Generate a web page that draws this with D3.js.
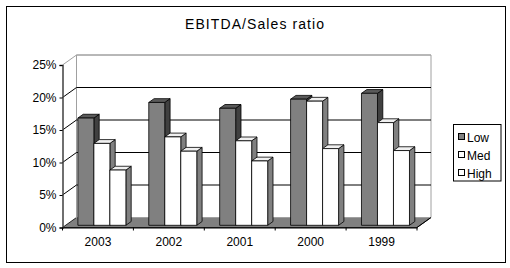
<!DOCTYPE html>
<html>
<head>
<meta charset="utf-8">
<script src="https://cdn.jsdelivr.net/npm/d3@7"></script>
<style>
  body { margin: 0; background: #fff; }
  svg { display: block; font-family: "Liberation Sans", Arial, sans-serif; }
</style>
</head>
<body>
<svg width="510" height="268"></svg>
<script>
// data
const categories = ["2003", "2002", "2001", "2000", "1999"];
const seriesNames = ["Low", "Med", "High"];
const lowValues = [0.165, 0.189, 0.180, 0.194, 0.203];
const medValues = [0.126, 0.136, 0.130, 0.191, 0.158];
const highValues = [0.085, 0.114, 0.099, 0.118, 0.115];
const yTicks = [0, 0.05, 0.10, 0.15, 0.20, 0.25];

const seriesValues = { Low: lowValues, Med: medValues, High: highValues };
const colors = {
    Low: { front: "#808080", side: "#404040", top: "#5a5a5a" },
    Med: { front: "#ffffff", side: "#808080", top: "#f0f0f0" },
    High: { front: "#ffffff", side: "#808080", top: "#f0f0f0" }
};

const svg = d3.select("svg");

// outer frame
svg.append("rect")
    .attr("x", 6.5).attr("y", 6.5)
    .attr("width", 499).attr("height", 256)
    .attr("fill", "#fff").attr("stroke", "#000");

svg.append("text")
    .attr("x", 254.5).attr("y", 28.5)
    .attr("text-anchor", "middle")
    .attr("font-size", 14)
    .attr("textLength", 139)
    .attr("lengthAdjust", "spacing")
    .text("EBITDA/Sales ratio");

// front plane scales + depth vector
const area = { left: 62.5, right: 417, bottom: 227.5, top: 65 };
const depth = { dx: 14, dy: -10 };

const scaleY = d3.scaleLinear().domain([0, 0.25]).range([area.bottom, area.top]);
const scaleX = d3.scaleBand().domain(categories).range([area.left, area.right]);
const scaleS = d3.scaleBand().domain(seriesNames).range([12.3, 60.3]);

function pt(x, v, f) {
    return [x + depth.dx * f, scaleY(v) + depth.dy * f];
}
const toPath = (pts) => "M" + pts.map(p => p.join(",")).join("L") + "Z";

// floor
svg.append("path")
    .attr("d", toPath([pt(area.left, 0, 0), pt(area.right, 0, 0), pt(area.right, 0, 1), pt(area.left, 0, 1)]))
    .attr("fill", "#808080")
    .attr("stroke", "#000")
    .attr("stroke-width", 0.8);

// back wall + gridlines
const backL = pt(area.left, 0, 1)[0];
const backR = pt(area.right, 0, 1)[0];
svg.append("path")
    .attr("d", toPath([pt(area.left, 0, 1), pt(area.left, 0.25, 1), pt(area.right, 0.25, 1), pt(area.right, 0, 1)]))
    .attr("fill", "#fff")
    .attr("stroke", "#a0a0a0");

yTicks.forEach(t => {
    if (t === 0) return;
    const c = t === 0.25 ? "#a0a0a0" : "#000";
    const yb = pt(area.left, t, 1)[1];
    svg.append("line")
        .attr("x1", backL).attr("x2", backR)
        .attr("y1", yb).attr("y2", yb)
        .attr("stroke", c);
    const a = pt(area.left, t, 0), b = pt(area.left, t, 1);
    svg.append("line")
        .attr("x1", a[0]).attr("y1", a[1])
        .attr("x2", b[0]).attr("y2", b[1])
        .attr("stroke", c);
});

// value axis
svg.append("g")
    .attr("transform", `translate(${area.left},0)`)
    .call(d3.axisLeft(scaleY).tickValues(yTicks).tickFormat(d3.format(".0%")).tickSizeOuter(0).tickSize(3).tickPadding(3))
    .call(g => g.select(".domain").attr("stroke", "#404040").attr("stroke-width", 1.5))
    .call(g => g.selectAll("text").attr("font-size", 12).attr("fill", "#000").attr("font-family", "Liberation Sans, Arial, sans-serif"));

// category axis
svg.append("g")
    .attr("transform", `translate(0,${area.bottom})`)
    .call(d3.axisBottom(scaleX).tickSize(0).tickPadding(10).tickSizeOuter(0))
    .call(g => g.select(".domain").attr("stroke", "#000"))
    .call(g => g.selectAll("text").attr("font-size", 12).attr("fill", "#000").attr("font-family", "Liberation Sans, Arial, sans-serif"));

const bounds = categories.map(c => scaleX(c)).concat([area.right]);
svg.selectAll(".cat-tick")
    .data(bounds)
    .enter()
    .append("line")
    .attr("x1", d => d).attr("x2", d => d)
    .attr("y1", area.bottom).attr("y2", area.bottom + 3)
    .attr("stroke", "#000");

// floor right edge
const fr0 = pt(area.right, 0, 0), fr1 = pt(area.right, 0, 1);
svg.append("line")
    .attr("x1", fr0[0]).attr("y1", fr0[1])
    .attr("x2", fr1[0]).attr("y2", fr1[1])
    .attr("stroke", "#000");

// bars, drawn left to right so the next front face hides the side
const f0 = 0.22, f1 = 0.6;
const barW = scaleS.bandwidth();
const bars = [];
categories.forEach((cat, i) => {
    seriesNames.forEach(s => {
        bars.push({ cat: cat, series: s, value: seriesValues[s][i] });
    });
});

bars.forEach(d => {
    const x = scaleX(d.cat) + scaleS(d.series);
    const col = colors[d.series];
    const g = svg.append("g").attr("stroke", "#000").attr("stroke-width", 0.8).attr("stroke-linejoin", "round");
    // side
    g.append("path")
        .attr("d", toPath([pt(x + barW, 0, f0), pt(x + barW, d.value, f0), pt(x + barW, d.value, f1), pt(x + barW, 0, f1)]))
        .attr("fill", col.side);
    // top
    g.append("path")
        .attr("d", toPath([pt(x, d.value, f0), pt(x + barW, d.value, f0), pt(x + barW, d.value, f1), pt(x, d.value, f1)]))
        .attr("fill", col.top);
    // front
    g.append("path")
        .attr("d", toPath([pt(x, 0, f0), pt(x, d.value, f0), pt(x + barW, d.value, f0), pt(x + barW, 0, f0)]))
        .attr("fill", col.front);
});

// legend
const legend = svg.append("g");
legend.append("rect")
    .attr("x", 453.5).attr("y", 124.5)
    .attr("width", 47.5).attr("height", 56.5)
    .attr("fill", "#fff").attr("stroke", "#000");

const legendY = d3.scalePoint().domain(seriesNames).range([137, 173]);
seriesNames.forEach(s => {
    legend.append("rect")
        .attr("x", 458.5).attr("y", legendY(s) - 3.5)
        .attr("width", 6).attr("height", 6)
        .attr("fill", colors[s].front).attr("stroke", "#000");
    legend.append("text")
        .attr("x", 467).attr("y", legendY(s) + 4.5)
        .attr("font-size", 12)
        .text(s);
});
</script>
</body>
</html>
